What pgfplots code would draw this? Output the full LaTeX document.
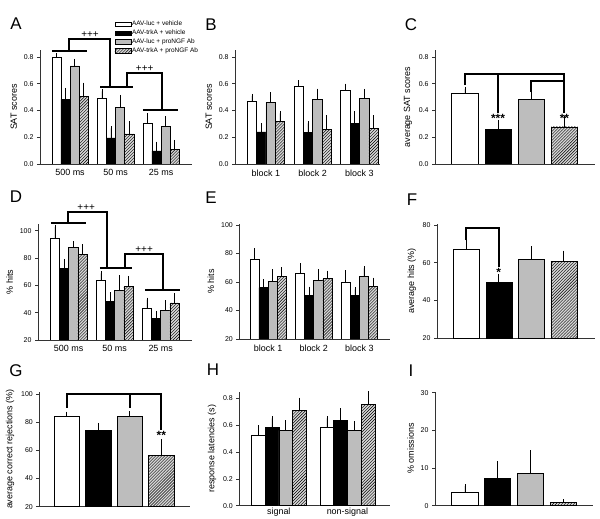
\documentclass[border=0pt]{standalone}
\usepackage{pgfplots}
\pgfplotsset{compat=1.18}
\usepackage{fontspec}
\setmainfont{Liberation Sans}
\usetikzlibrary{patterns}

\definecolor{barg}{gray}{0.74}
\definecolor{hatchg}{gray}{0.84}

\tikzset{brk/.style={line width=2bp, black}}
\pgfplotsset{
  panel/.style={
    scale only axis, anchor=south west, clip mode=individual,
    axis x line*=bottom, axis y line*=left,
    axis line style={-, black!80, line width=0.6bp},
    tick align=outside, ytick pos=left,
    major tick length=3bp,
    every tick/.style={black!80, line width=0.6bp},
    major x tick style={draw=none},
    yticklabel style={font=\fontsize{7}{8}\selectfont},
    xticklabel style={font=\fontsize{9}{10}\selectfont, yshift=1bp},
    ylabel style={font=\fontsize{9}{10}\selectfont},
    /pgf/number format/assume math mode=true,
    ybar, bar width=0.2, bar shift=0pt,
    error bars/y dir=plus, error bars/y explicit,
    error bars/error bar style={black, line width=0.6bp},
    error bars/error mark options={black, line width=0.6bp, mark size=2bp},
  },
  dec/.style={yticklabel style={/pgf/number format/fixed, /pgf/number format/fixed zerofill, /pgf/number format/precision=1}},
  sW/.style={draw=black, line width=0.5bp, fill=white},
  sK/.style={draw=black, line width=0.5bp, fill=black},
  sG/.style={draw=black, line width=0.5bp, fill=barg},
  sH/.style={draw=black, line width=0.5bp, fill=hatchg, postaction={pattern=north east lines}},
}

\begin{document}
\begin{tikzpicture}
\path[use as bounding box] (0bp,0bp) rectangle (600bp,519bp);

% ---------------- A ----------------
\begin{axis}[panel, dec, at={(40bp,355bp)}, width=152bp, height=113.7bp,
  xmin=-0.66, xmax=2.68, ymin=0, ymax=0.85,
  ytick={0,0.2,0.4,0.6,0.8}, xtick={0,1,2}, xticklabels={500 ms,50 ms,25 ms},
  ylabel={SAT scores},
  legend style={at={(0.49,1.265)}, anchor=north west, draw=none, fill=none,
    font=\fontsize{6.5}{7}\selectfont, row sep=0.8bp, inner sep=0pt,
    nodes={inner sep=0.9bp}},
  legend cell align=left,
  legend image code/.code={\draw[#1] (0bp,-2.2bp) rectangle (16bp,2.2bp);},
]
\addplot[sW] coordinates {(-0.3,0.795) +- (0,0.017) (0.7,0.494) +- (0,0.048) (1.7,0.308) +- (0,0.055)};
\addplot[sK] coordinates {(-0.1,0.484) +- (0,0.070) (0.9,0.196) +- (0,0.070) (1.9,0.099) +- (0,0.053)};
\addplot[sG] coordinates {(0.1,0.733) +- (0,0.037) (1.1,0.422) +- (0,0.080) (2.1,0.281) +- (0,0.062)};
\addplot[sH] coordinates {(0.3,0.504) +- (0,0.090) (1.3,0.226) +- (0,0.077) (2.3,0.109) +- (0,0.057)};
\legend{AAV-luc + vehicle, AAV-trkA + vehicle, AAV-luc + proNGF Ab, AAV-trkA + proNGF Ab}
\draw[brk] (axis cs:-0.40,0.845) -- (axis cs:0.37,0.845);
\draw[brk] (axis cs:-0.02,0.845) -- (axis cs:-0.02,0.935) -- (axis cs:0.88,0.935) -- (axis cs:0.88,0.576);
\draw[brk] (axis cs:0.66,0.576) -- (axis cs:1.38,0.576);
\draw[brk] (axis cs:1.25,0.576) -- (axis cs:1.25,0.68) -- (axis cs:2.02,0.68) -- (axis cs:2.02,0.404);
\draw[brk] (axis cs:1.60,0.404) -- (axis cs:2.37,0.404);
\node[anchor=south, inner sep=1bp, font=\fontsize{10}{10}\selectfont] at (axis cs:0.44,0.935) {+++};
\node[anchor=south, inner sep=1bp, font=\fontsize{10}{10}\selectfont] at (axis cs:1.64,0.68) {+++};
\end{axis}

% ---------------- B ----------------
\begin{axis}[panel, dec, at={(235bp,355bp)}, width=145bp, height=113.7bp,
  xmin=-0.66, xmax=2.44, ymin=0, ymax=0.85,
  ytick={0,0.2,0.4,0.6,0.8}, xtick={0,1,2}, xticklabels={block 1,block 2,block 3},
  ylabel={SAT scores}]
\addplot[sW] coordinates {(-0.3,0.472) +- (0,0.037) (0.7,0.581) +- (0,0.030) (1.7,0.549) +- (0,0.037)};
\addplot[sK] coordinates {(-0.1,0.241) +- (0,0.050) (0.9,0.234) +- (0,0.069) (1.9,0.306) +- (0,0.072)};
\addplot[sG] coordinates {(0.1,0.460) +- (0,0.062) (1.1,0.484) +- (0,0.065) (2.1,0.489) +- (0,0.058)};
\addplot[sH] coordinates {(0.3,0.318) +- (0,0.060) (1.3,0.258) +- (0,0.090) (2.3,0.266) +- (0,0.082)};
\end{axis}

% ---------------- C ----------------
\begin{axis}[panel, dec, at={(435bp,355bp)}, width=160bp, height=113.7bp,
  xmin=-0.90, xmax=3.92, ymin=0, ymax=0.85, bar width=0.8,
  ytick={0,0.2,0.4,0.6,0.8}, xtick=\empty,
  ylabel={average SAT scores}]
\addplot[sW] coordinates {(0,0.529) +- (0,0.032)};
\addplot[sK] coordinates {(1,0.258) +- (0,0.053)};
\addplot[sG] coordinates {(2,0.482) +- (0,0.050)};
\addplot[sH] coordinates {(3,0.278) +- (0,0.065)};
\draw[brk] (axis cs:0,0.59) -- (axis cs:0,0.673) -- (axis cs:3,0.673) -- (axis cs:3,0.381);
\draw[brk] (axis cs:1,0.673) -- (axis cs:1,0.381);
\draw[brk] (axis cs:2,0.538) -- (axis cs:2,0.62) -- (axis cs:3,0.62);
\node[anchor=north, inner sep=0.5bp, font=\fontsize{12}{12}\selectfont\bfseries] at (axis cs:1,0.375) {***};
\node[anchor=north, inner sep=0.5bp, font=\fontsize{12}{12}\selectfont\bfseries] at (axis cs:3,0.375) {**};
\end{axis}

% ---------------- D ----------------
\begin{axis}[panel, at={(38bp,179bp)}, width=154bp, height=116.1bp,
  xmin=-0.667, xmax=2.68, ymin=20, ymax=105,
  ytick={20,40,60,80,100}, xtick={0,1,2}, xticklabels={500 ms,50 ms,25 ms},
  ylabel={\% hits}]
\addplot[sW] coordinates {(-0.3,94.6) +- (0,8.3) (0.7,63.7) +- (0,5.1) (1.7,43.4) +- (0,6.1)};
\addplot[sK] coordinates {(-0.1,72.7) +- (0,5.3) (0.9,48.5) +- (0,4.9) (1.9,36.1) +- (0,3.7)};
\addplot[sG] coordinates {(0.1,87.8) +- (0,3.2) (1.1,56.1) +- (0,9.8) (2.1,41.5) +- (0,6.3)};
\addplot[sH] coordinates {(0.3,82.9) +- (0,5.6) (1.3,59.3) +- (0,6.1) (2.3,47.1) +- (0,5.8)};
\draw[brk] (axis cs:-0.385,105.9) -- (axis cs:0.376,105.9);
\draw[brk] (axis cs:-0.01,105.9) -- (axis cs:-0.01,113.9) -- (axis cs:0.84,113.9) -- (axis cs:0.84,72.5);
\draw[brk] (axis cs:0.68,72.5) -- (axis cs:1.37,72.5);
\draw[brk] (axis cs:1.22,72.5) -- (axis cs:1.22,83.0) -- (axis cs:2.04,83.0) -- (axis cs:2.04,56.6);
\draw[brk] (axis cs:1.66,56.6) -- (axis cs:2.42,56.6);
\node[anchor=south, inner sep=1bp, font=\fontsize{10}{10}\selectfont] at (axis cs:0.38,113.9) {+++};
\node[anchor=south, inner sep=1bp, font=\fontsize{10}{10}\selectfont] at (axis cs:1.64,83.0) {+++};
\end{axis}

% ---------------- E ----------------
\begin{axis}[panel, at={(239.3bp,180bp)}, width=150.7bp, height=114.7bp,
  xmin=-0.63, xmax=2.67, ymin=20, ymax=100.5,
  ytick={20,40,60,80,100}, xtick={0,1,2}, xticklabels={block 1,block 2,block 3},
  ylabel={\% hits}]
\addplot[sW] coordinates {(-0.3,75.9) +- (0,6.3) (0.7,66.1) +- (0,5.6) (1.7,60.0) +- (0,7.0)};
\addplot[sK] coordinates {(-0.1,56.0) +- (0,4.5) (0.9,50.6) +- (0,4.7) (1.9,50.4) +- (0,4.5)};
\addplot[sG] coordinates {(0.1,60.2) +- (0,7.5) (1.1,61.2) +- (0,6.3) (2.1,64.0) +- (0,5.6)};
\addplot[sH] coordinates {(0.3,64.0) +- (0,5.1) (1.3,62.6) +- (0,3.9) (2.3,57.0) +- (0,4.6)};
\end{axis}

% ---------------- F ----------------
\begin{axis}[panel, at={(437bp,180.7bp)}, width=158bp, height=114.3bp,
  xmin=-0.90, xmax=3.96, ymin=20, ymax=80.5, bar width=0.8,
  ytick={20,40,60,80}, xtick=\empty,
  ylabel={average hits (\%)}]
\addplot[sW] coordinates {(0,66.9) +- (0,3.9)};
\addplot[sK] coordinates {(1,49.5) +- (0,3.5)};
\addplot[sG] coordinates {(2,61.6) +- (0,6.0)};
\addplot[sH] coordinates {(3,60.9) +- (0,4.5)};
\draw[brk] (axis cs:0,72.0) -- (axis cs:0,78.2) -- (axis cs:1,78.2) -- (axis cs:1,57.6);
\node[anchor=north, inner sep=0.5bp, font=\fontsize{12}{12}\selectfont\bfseries] at (axis cs:1,57.2) {*};
\end{axis}

% ---------------- G ----------------
\begin{axis}[panel, at={(39.3bp,12.3bp)}, width=150.7bp, height=115bp,
  xmin=-0.87, xmax=3.91, ymin=20, ymax=101.6, bar width=0.82,
  ytick={20,40,60,80,100}, xtick=\empty,
  ylabel={average correct rejections (\%)}]
\addplot[sW] coordinates {(0,83.9) +- (0,2.1)};
\addplot[sK] coordinates {(1,74.4) +- (0,3.6)};
\addplot[sG] coordinates {(2,83.9) +- (0,2.4)};
\addplot[sH] coordinates {(3,56.4) +- (0,10.0)};
\draw[brk] (axis cs:0,90.3) -- (axis cs:0,100) -- (axis cs:3,100) -- (axis cs:3,74.4);
\draw[brk] (axis cs:2,90.3) -- (axis cs:2,100);
\node[anchor=north, inner sep=0.5bp, font=\fontsize{12}{12}\selectfont\bfseries] at (axis cs:3,74.0) {**};
\end{axis}

% ---------------- H ----------------
\begin{axis}[panel, dec, at={(239.3bp,13.3bp)}, width=150.7bp, height=114.1bp,
  xmin=-0.575, xmax=1.62, ymin=0, ymax=0.85,
  ytick={0,0.2,0.4,0.6,0.8}, xtick={0,1}, xticklabels={signal,non-signal},
  xticklabel style={yshift=3.5bp},
  ylabel={response latencies (s)}]
\addplot[sW] coordinates {(-0.3,0.522) +- (0,0.062) (0.7,0.584) +- (0,0.067)};
\addplot[sK] coordinates {(-0.1,0.581) +- (0,0.070) (0.9,0.634) +- (0,0.077)};
\addplot[sG] coordinates {(0.1,0.561) +- (0,0.060) (1.1,0.561) +- (0,0.053)};
\addplot[sH] coordinates {(0.3,0.711) +- (0,0.079) (1.3,0.753) +- (0,0.089)};
\end{axis}

% ---------------- I ----------------
\begin{axis}[panel, at={(435bp,13.3bp)}, width=158bp, height=114.1bp,
  xmin=-0.91, xmax=3.91, ymin=0, ymax=30.3, bar width=0.8,
  ytick={0,10,20,30}, xtick=\empty,
  ylabel={\% omissions}]
\addplot[sW] coordinates {(0,3.6) +- (0,1.6)};
\addplot[sK] coordinates {(1,7.3) +- (0,4.0)};
\addplot[sG] coordinates {(2,8.6) +- (0,5.6)};
\addplot[sH] coordinates {(3,0.9) +- (0,0.25)};
\end{axis}

% panel letters
\begin{scope}[every node/.style={font=\fontsize{17}{17}\selectfont, inner sep=0pt}]
\node at (16bp,495bp) {A};
\node at (211bp,494bp) {B};
\node at (411bp,494bp) {C};
\node at (16bp,322bp) {D};
\node at (211bp,321bp) {E};
\node at (412bp,319bp) {F};
\node at (16bp,148bp) {G};
\node at (213bp,149bp) {H};
\node at (411bp,148bp) {I};
\end{scope}
\end{tikzpicture}
\end{document}
